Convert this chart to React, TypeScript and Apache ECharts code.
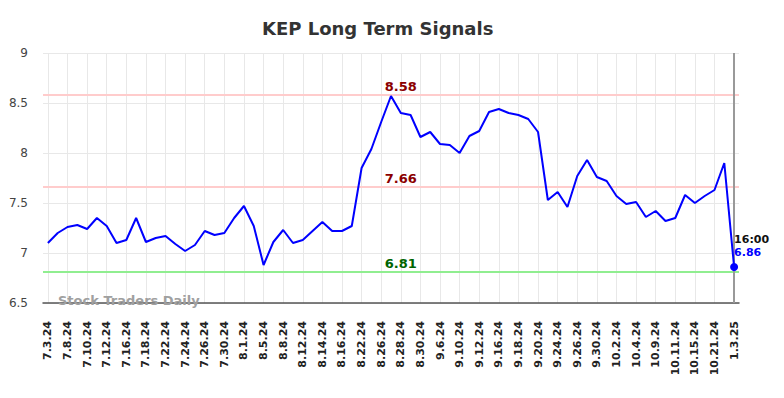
import React, { useEffect, useRef } from "react";
import * as echarts from "echarts";

const dates: string[] = [
  "7.3.24", "7.5.24", "7.8.24", "7.9.24", "7.10.24", "7.11.24", "7.12.24", "7.15.24",
  "7.16.24", "7.17.24", "7.18.24", "7.19.24", "7.22.24", "7.23.24", "7.24.24", "7.25.24",
  "7.26.24", "7.29.24", "7.30.24", "7.31.24", "8.1.24", "8.2.24", "8.5.24", "8.6.24",
  "8.8.24", "8.9.24", "8.12.24", "8.13.24", "8.14.24", "8.15.24", "8.16.24", "8.20.24",
  "8.22.24", "8.23.24", "8.26.24", "8.27.24", "8.28.24", "8.29.24", "8.30.24", "9.3.24",
  "9.6.24", "9.9.24", "9.10.24", "9.11.24", "9.12.24", "9.13.24", "9.16.24", "9.17.24",
  "9.18.24", "9.19.24", "9.20.24", "9.23.24", "9.24.24", "9.25.24", "9.26.24", "9.27.24",
  "9.30.24", "10.1.24", "10.2.24", "10.3.24", "10.4.24", "10.8.24", "10.9.24", "10.10.24",
  "10.11.24", "10.14.24", "10.15.24", "10.18.24", "10.21.24", "10.22.24", "1.3.25",
];

const prices: number[] = [
  7.10, 7.20, 7.26, 7.28, 7.24, 7.35, 7.27, 7.10, 7.13, 7.35,
  7.11, 7.15, 7.17, 7.09, 7.02, 7.08, 7.22, 7.18, 7.20, 7.35,
  7.47, 7.27, 6.88, 7.11, 7.23, 7.10, 7.13, 7.22, 7.31, 7.22,
  7.22, 7.27, 7.85, 8.04, 8.31, 8.57, 8.40, 8.38, 8.16, 8.21,
  8.09, 8.08, 8.00, 8.17, 8.22, 8.41, 8.44, 8.40, 8.38, 8.34,
  8.21, 7.53, 7.61, 7.46, 7.77, 7.93, 7.76, 7.72, 7.57, 7.49,
  7.51, 7.36, 7.42, 7.32, 7.35, 7.58, 7.50, 7.57, 7.63, 7.90,
  6.86,
];

const resistanceHigh = 8.58;
const resistanceMid = 7.66;
const support = 6.81;
const lastTime = "16:00";

const yMin = 6.5;
const yMax = 9;
const yStep = 0.5;

export default function App() {
  const ref = useRef<HTMLDivElement>(null);

  useEffect(() => {
    if (!ref.current) return;
    const chart = echarts.init(ref.current, undefined, { renderer: "svg" });
    const lastIdx = prices.length - 1;
    const labelFrom = 2;
    const labelTo = lastIdx;

    const hLine = (v: number, color: string) => ({
      yAxis: v,
      lineStyle: { color, width: 2, type: "solid" },
      label: { show: false },
    });

    const labelSeg = (v: number, color: string) => [
      {
        coord: [labelFrom, v],
        lineStyle: { width: 0, color: "rgba(0,0,0,0)" },
        label: {
          show: true,
          position: "middle",
          formatter: v.toFixed(2),
          color,
          fontWeight: "bold",
          fontSize: 13,
          fontFamily: "DejaVu Sans",
          distance: 2,
        },
      },
      { coord: [labelTo, v] },
    ];

    chart.setOption({
      animation: false,
      backgroundColor: "#ffffff",
      title: {
        text: "KEP Long Term Signals",
        left: 257,
        top: 14,
        textStyle: {
          fontFamily: "DejaVu Sans",
          fontSize: 18,
          fontWeight: "bold",
          color: "#333333",
        },
      },
      grid: { left: 43, right: 45, top: 53, bottom: 95, containLabel: false },
      xAxis: {
        type: "category",
        data: dates,
        boundaryGap: true,
        axisLine: { show: true, lineStyle: { color: "#555555", width: 1.5 } },
        axisTick: { show: false },
        axisLabel: {
          interval: 1,
          rotate: 90,
          margin: 18,
          fontSize: 11,
          fontWeight: "bold",
          fontFamily: "DejaVu Sans",
          color: "#222222",
        },
        splitLine: {
          show: true,
          interval: 1,
          alignWithLabel: true,
          lineStyle: { color: "#e8e8e8", width: 1 },
        },
      },
      yAxis: {
        type: "value",
        min: yMin,
        max: yMax,
        interval: yStep,
        axisLine: { show: false },
        axisTick: { show: false },
        axisLabel: {
          fontSize: 12,
          fontFamily: "DejaVu Sans",
          color: "#444444",
          margin: 15,
        },
        splitLine: { show: true, lineStyle: { color: "#e8e8e8", width: 1 } },
      },
      graphic: [
        {
          type: "text",
          left: 58,
          top: 294,
          z: 100,
          style: {
            text: "Stock Traders Daily",
            fontFamily: "DejaVu Sans",
            fontSize: 13,
            fontWeight: "bold",
            fill: "#a0a0a0",
          },
        },
      ],
      series: [
        {
          type: "line",
          data: prices.map((v, i) =>
            i === lastIdx
              ? {
                  value: v,
                  symbol: "circle",
                  symbolSize: 8,
                  itemStyle: { color: "#0000ff" },
                  label: {
                    show: true,
                    position: [4, -30],
                    formatter: `{t|${lastTime}}\n{v|${v.toFixed(2)}}`,
                    rich: {
                      t: {
                        fontFamily: "DejaVu Sans",
                        fontSize: 11,
                        fontWeight: "bold",
                        color: "#111111",
                        lineHeight: 13,
                      },
                      v: {
                        fontFamily: "DejaVu Sans",
                        fontSize: 11,
                        fontWeight: "bold",
                        color: "#0000ff",
                        lineHeight: 13,
                      },
                    },
                  },
                }
              : { value: v, symbol: "none" }
          ),
          showSymbol: true,
          lineStyle: { color: "#0000ff", width: 2 },
          itemStyle: { color: "#0000ff" },
          z: 5,
          markLine: {
            silent: true,
            symbol: "none",
            animation: false,
            data: [
              hLine(resistanceHigh, "#ffcccc"),
              hLine(resistanceMid, "#ffcccc"),
              hLine(support, "#90ee90"),
              {
                xAxis: lastIdx,
                lineStyle: { color: "#999999", width: 2, type: "solid" },
                label: { show: false },
              },
              labelSeg(resistanceHigh, "#8b0000"),
              labelSeg(resistanceMid, "#8b0000"),
              labelSeg(support, "#006400"),
            ],
          },
        },
      ],
    });

    return () => chart.dispose();
  }, []);

  return (
    <div
      ref={ref}
      style={{ position: "fixed", left: 0, top: 0, width: 784, height: 398 }}
    />
  );
}
